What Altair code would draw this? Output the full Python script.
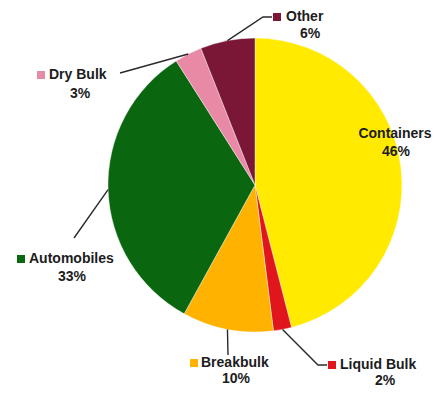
import math
import altair as alt
import pandas as pd

# ---- data ----
categories = ["Containers", "Liquid Bulk", "Breakbulk", "Automobiles", "Dry Bulk", "Other"]
shares = [46, 2, 10, 33, 3, 6]
pct_labels = ["46%", "2%", "10%", "33%", "3%", "6%"]
colors = ["#FFEA00", "#E0161C", "#FFB300", "#0B670F", "#E88AA5", "#7A1636"]

# ---- layout (plot-area pixels) ----
W, H = 427, 380
CX, CY, R = 247, 177, 147
# label layout: square x, name left x, name y, pct x, pct y, leader points after the pie edge
layout = {
    "Containers":  dict(sq=None, nx=387, ny=126, px=388, py=144, lead=[]),
    "Liquid Bulk": dict(sq=324, nx=332, ny=357, px=377, py=373, lead=[(310, 357), (319, 357)]),
    "Breakbulk":   dict(sq=186, nx=193, ny=355, px=228, py=371, lead=[(220, 347)]),
    "Automobiles": dict(sq=13,  nx=21,  ny=251, px=64,  py=269, lead=[(66, 230)]),
    "Dry Bulk":    dict(sq=33,  nx=41,  ny=67,  px=72,  py=86,  lead=[(112, 65)]),
    "Other":       dict(sq=269, nx=278, ny=9,   px=302, py=26,  lead=[(255, 9), (264, 9)]),
}

total = sum(shares)
pie_df = pd.DataFrame({"category": categories, "share": shares, "idx": range(len(categories))})

# leader lines start at the pie edge at each slice's mid-angle
line_rows, name_rows, pct_rows, sq_rows = [], [], [], []
cum = 0
for cat, s, p in zip(categories, shares, pct_labels):
    mid = (cum + s / 2) / total * 2 * math.pi
    cum += s
    L = layout[cat]
    ex, ey = CX + R * math.sin(mid), CY - R * math.cos(mid)
    if L["lead"]:
        pts = [(ex, ey)] + L["lead"]
        for k, (x, y) in enumerate(pts):
            line_rows.append({"category": cat, "k": k, "x": x, "y": y})
    if L["sq"] is not None:
        sq_rows.append({"category": cat, "x": L["sq"], "y": L["ny"]})
        name_rows.append({"text": cat, "x": L["nx"], "y": L["ny"], "align": "left"})
    else:
        name_rows.append({"text": cat, "x": L["nx"], "y": L["ny"], "align": "center"})
    pct_rows.append({"text": p, "x": L["px"], "y": L["py"]})

xs = alt.Scale(domain=[0, W], nice=False, zero=False)
ys = alt.Scale(domain=[0, H], nice=False, zero=False, reverse=True)
cscale = alt.Scale(domain=categories, range=colors)

pie = alt.Chart(pie_df).mark_arc(radius=R, stroke="#ffffff", strokeWidth=0.4).encode(
    theta=alt.Theta("share:Q", stack=True),
    color=alt.Color("category:N", scale=cscale, legend=None),
    order=alt.Order("idx:Q", sort="ascending"),
    x=alt.value(CX),
    y=alt.value(CY),
)

lines = alt.Chart(pd.DataFrame(line_rows)).mark_line(color="#2a2a2a", strokeWidth=1.4).encode(
    x=alt.X("x:Q", scale=xs, axis=None),
    y=alt.Y("y:Q", scale=ys, axis=None),
    detail="category:N",
    order="k:Q",
)

squares = alt.Chart(pd.DataFrame(sq_rows)).mark_square(size=64, opacity=1).encode(
    x=alt.X("x:Q", scale=xs, axis=None),
    y=alt.Y("y:Q", scale=ys, axis=None),
    color=alt.Color("category:N", scale=cscale, legend=None),
)

name_df = pd.DataFrame(name_rows)
font = "Liberation Sans"
names_left = alt.Chart(name_df[name_df["align"] == "left"]).mark_text(
    align="left", baseline="middle", font=font, fontSize=14, fontWeight="bold", color="#1c1c1c"
).encode(
    x=alt.X("x:Q", scale=xs, axis=None),
    y=alt.Y("y:Q", scale=ys, axis=None),
    text="text:N",
)
names_center = alt.Chart(name_df[name_df["align"] == "center"]).mark_text(
    align="center", baseline="middle", font=font, fontSize=14, fontWeight="bold", color="#1c1c1c"
).encode(
    x=alt.X("x:Q", scale=xs, axis=None),
    y=alt.Y("y:Q", scale=ys, axis=None),
    text="text:N",
)
pcts = alt.Chart(pd.DataFrame(pct_rows)).mark_text(
    align="center", baseline="middle", font=font, fontSize=14, fontWeight="bold", color="#1c1c1c"
).encode(
    x=alt.X("x:Q", scale=xs, axis=None),
    y=alt.Y("y:Q", scale=ys, axis=None),
    text="text:N",
)

chart = alt.layer(pie, lines, squares, names_left, names_center, pcts).properties(
    width=W, height=H, padding=0, autosize=alt.AutoSizeParams(type="none"), background="#ffffff"
).configure_view(stroke=None)

chart.save("out.html", embed_options={"renderer": "svg", "actions": False})
